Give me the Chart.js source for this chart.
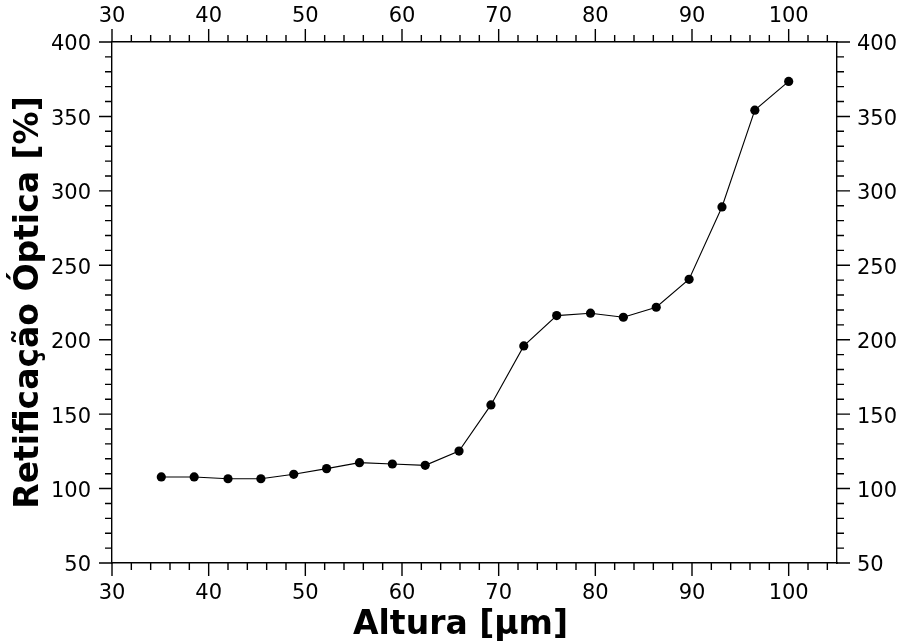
<!DOCTYPE html>
<html>
<head>
<meta charset="utf-8">
<script src="https://cdn.jsdelivr.net/npm/chart.js@4/dist/chart.umd.min.js"></script>
<style>
  body { margin: 0; background: #fff; }
  canvas { display: block; }
</style>
</head>
<body>
<canvas id="chart" width="902" height="642"></canvas>
<script>
// Altura [µm] vs Retificação Óptica [%]
const alturas = [35.1, 38.5, 42.0, 45.4, 48.8, 52.2, 55.6, 59.0, 62.4, 65.9,
                 69.2, 72.6, 76.0, 79.5, 82.9, 86.3, 89.7, 93.1, 96.5, 100.0];
const retificacao = [107.8, 107.8, 106.6, 106.6, 109.6, 113.4, 117.4, 116.5, 115.6, 125.2,
                     156.2, 195.8, 216.2, 217.8, 215.1, 221.8, 240.6, 289.2, 354.2, 373.5];

const xTicks = [30, 40, 50, 60, 70, 80, 90, 100];
const yTicks = [50, 100, 150, 200, 250, 300, 350, 400];

const X_MIN = 30, X_MAX = 105, X_MINOR = 2;
const Y_MIN = 50, Y_MAX = 400, Y_MINOR = 10;

const TICK_FONT = { family: 'DejaVu Sans', size: 21 };
const TITLE_FONT = { family: 'DejaVu Sans', size: 33, weight: 'bold', lineHeight: 1 };
const AXIS_W = 1.4;
const XTITLE_SHIFT = -14;

// matplotlib style ticks: outward, majors long, minors short
const tickMarks = {
    id: 'tickMarks',
    afterLayout(chart) {
        // x label sits a little left of the axes centre in the original
        const xs = chart.scales.x;
        if (!xs._shifted) {
            const orig = xs.drawTitle;
            xs.drawTitle = function (area) {
                const ctx = this.ctx;
                ctx.save();
                ctx.translate(XTITLE_SHIFT, 0);
                orig.call(this, area);
                ctx.restore();
            };
            xs._shifted = true;
        }
    },
    afterDraw(chart) {
        const ctx = chart.ctx;
        const area = chart.chartArea;
        ctx.save();
        ctx.strokeStyle = '#000';
        ctx.lineWidth = AXIS_W;
        ctx.beginPath();

        ['x', 'x2'].forEach(id => {
            const s = chart.scales[id];
            for (let v = X_MIN; v <= X_MAX + 1e-9; v += X_MINOR) {
                const len = xTicks.includes(v) ? 13 : 7;
                const px = s.getPixelForValue(v);
                if (id === 'x') {
                    ctx.moveTo(px, area.bottom);
                    ctx.lineTo(px, area.bottom + len);
                } else {
                    ctx.moveTo(px, area.top);
                    ctx.lineTo(px, area.top - len);
                }
            }
        });

        ['y', 'y2'].forEach(id => {
            const s = chart.scales[id];
            for (let v = Y_MIN; v <= Y_MAX + 1e-9; v += Y_MINOR) {
                const len = yTicks.includes(v) ? 13 : 7;
                const py = s.getPixelForValue(v);
                if (id === 'y') {
                    ctx.moveTo(area.left, py);
                    ctx.lineTo(area.left - len, py);
                } else {
                    ctx.moveTo(area.right, py);
                    ctx.lineTo(area.right + len, py);
                }
            }
        });

        ctx.stroke();
        ctx.restore();
    }
};

function axisOpts(position, min, max, ticksList, size, pad, offset, extra) {
    return Object.assign({
        type: 'linear',
        position: position,
        display: true,
        min: min,
        max: max,
        afterBuildTicks: scale => {
            scale.ticks = ticksList.map(v => ({ value: v }));
        },
        afterFit: scale => {
            if (scale.isHorizontal()) scale.height = size;
            else scale.width = size;
        },
        grid: { display: false, drawTicks: false },
        border: { display: true, color: '#000', width: AXIS_W },
        ticks: { color: '#000', font: TICK_FONT, padding: pad, labelOffset: offset, maxRotation: 0 }
    }, extra || {});
}

Chart.defaults.color = '#000';

new Chart(document.getElementById('chart'), {
    type: 'line',
    data: {
        datasets: [{
            data: alturas.map((a, i) => ({ x: a, y: retificacao[i] })),
            borderColor: '#000',
            backgroundColor: '#000',
            borderWidth: 1.1,
            pointRadius: 4.6,
            pointHoverRadius: 4.6,
            pointBorderWidth: 0,
            tension: 0,
            xAxisID: 'x',
            yAxisID: 'y'
        }]
    },
    options: {
        responsive: false,
        animation: false,
        layout: { padding: 0 },
        plugins: {
            legend: { display: false },
            tooltip: { enabled: false }
        },
        scales: {
            x: axisOpts('bottom', X_MIN, X_MAX, xTicks, 79, 18, 0, {
                title: { display: true, text: 'Altura [µm]', color: '#000', font: TITLE_FONT, padding: { top: 1, bottom: 0 } }
            }),
            x2: axisOpts('top', X_MIN, X_MAX, xTicks, 42, 13, 0),
            y: axisOpts('left', Y_MIN, Y_MAX, yTicks, 112, 21, 3, {
                title: { display: true, text: 'Retificação Óptica [%]', color: '#000', font: TITLE_FONT, padding: { top: 13, bottom: 0 } }
            }),
            y2: axisOpts('right', Y_MIN, Y_MAX, yTicks, 65, 20, 3)
        }
    },
    plugins: [tickMarks]
});
</script>
</body>
</html>
